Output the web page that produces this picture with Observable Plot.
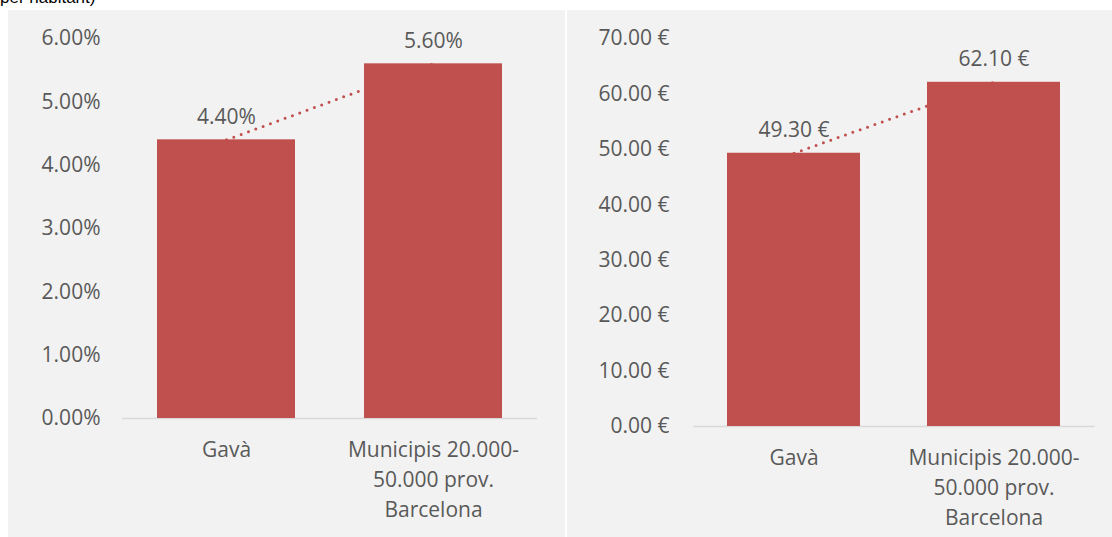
<!DOCTYPE html>
<html>
<head>
<meta charset="utf-8">
<script src="https://cdn.jsdelivr.net/npm/d3@7"></script>
<script src="https://cdn.jsdelivr.net/npm/@observablehq/plot@0.6"></script>
<style>
  html, body { margin: 0; padding: 0; background: #ffffff; }
  body { position: relative; width: 1112px; height: 537px; overflow: hidden; }
  #title { position: absolute; left: 0; top: -11px; font: 17px/17px "Liberation Sans", Arial, sans-serif; color: #000; white-space: nowrap; }
  .panel { position: absolute; top: 10px; height: 527px; background: #f2f2f2; }
  #left { left: 8px; width: 557px; }
  #right { left: 567px; width: 545px; }
  svg { display: block; }
</style>
</head>
<body>
<div id="title">per habitant)</div>
<div class="panel" id="left"></div>
<div class="panel" id="right"></div>
<script>
const categories = ["Gavà", "Municipis 20.000-\n50.000 prov.\nBarcelona"];
const pctValues = [4.40, 5.60];
const eurValues = [49.30, 62.10];
const pctTicks = [0, 1, 2, 3, 4, 5, 6];
const eurTicks = [0, 10, 20, 30, 40, 50, 60, 70];

const barColor = "#c0504d";
const textColor = "#595959";
const font = "'Open Sans', 'Noto Sans', sans-serif";
const fs = 21;

function panel({values, ticks, fmt, width, mL, mR, mT, mB, pad}) {
  const data = categories.map((c, i) => ({cat: c, v: values[i]}));
  return Plot.plot({
    width, height: 527,
    marginLeft: mL, marginRight: mR, marginTop: mT, marginBottom: mB,
    style: {background: "transparent", fontFamily: font, fontSize: fs + "px", color: textColor},
    x: {domain: categories, paddingInner: 1/3, paddingOuter: 1/6, label: null},
    y: {domain: [0, ticks[ticks.length - 1]], label: null},
    marks: [
      Plot.axisY({ticks, tickFormat: fmt, tickSize: 0, tickPadding: pad, label: null, fontSize: fs}),
      Plot.axisX({tickSize: 0, tickPadding: 17, lineHeight: 30 / fs, label: null, fontSize: fs}),
      Plot.ruleY([0], {stroke: "#d9d9d9", strokeWidth: 1.5}),
      Plot.line(data, {x: "cat", y: "v", stroke: barColor, strokeWidth: 3, strokeDasharray: "0,7.8", strokeLinecap: "round"}),
      Plot.barY(data, {x: "cat", y: "v", fill: barColor}),
      Plot.text(data, {x: "cat", y: "v", text: d => fmt(d.v), dy: -23, fill: textColor, fontSize: fs})
    ]
  });
}

document.getElementById("left").appendChild(panel({
  values: pctValues, ticks: pctTicks, fmt: d => d.toFixed(2) + "%",
  width: 557, mL: 114, mR: 28, mT: 28, mB: 119, pad: 22
}));
document.getElementById("right").appendChild(panel({
  values: eurValues, ticks: eurTicks, fmt: d => d.toFixed(2) + " €",
  width: 545, mL: 126, mR: 17.5, mT: 28, mB: 111, pad: 24
}));
</script>
</body>
</html>
